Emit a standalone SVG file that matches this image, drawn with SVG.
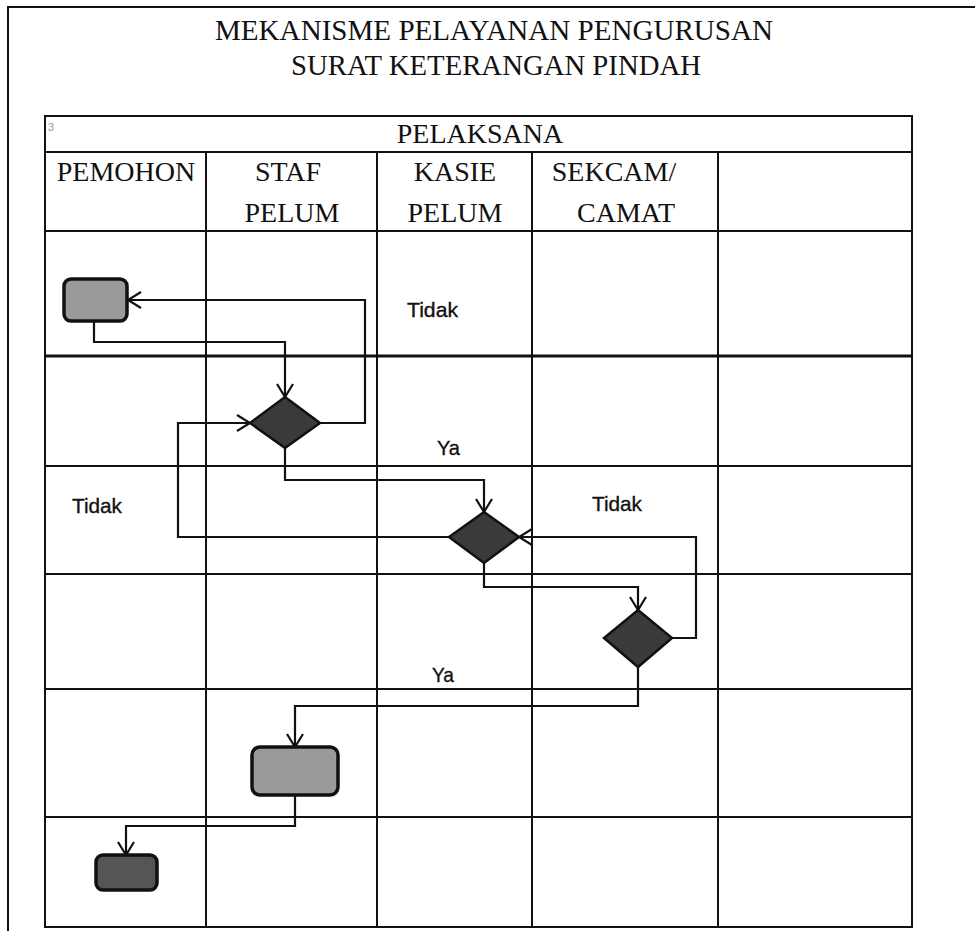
<svg xmlns="http://www.w3.org/2000/svg" width="975" height="931" viewBox="0 0 975 931">
<defs>
<style>
.grid{stroke:#111;stroke-width:2;fill:none}
.thick{stroke:#111;stroke-width:3;fill:none}
.title{font-family:"Liberation Serif","Times New Roman",serif;font-size:29px;fill:#111;text-anchor:middle}
.head{font-family:"Liberation Serif","Times New Roman",serif;font-size:28px;fill:#111;text-anchor:middle}
.lbl{font-family:"Liberation Sans",Arial,sans-serif;font-size:21px;fill:#111;stroke:#111;stroke-width:0.35}
.conn{stroke:#111;stroke-width:2.2;fill:none;marker-end:url(#arr)}
.act{fill:#9a9a9a;stroke:#111;stroke-width:3.5}
.dec{fill:#3a3a3a;stroke:#111;stroke-width:2.5}
</style>
<marker id="arr" markerUnits="userSpaceOnUse" markerWidth="16" markerHeight="20" refX="14" refY="10" orient="auto">
<path d="M1,2 L14,10 L1,18" fill="none" stroke="#111" stroke-width="2.2"/>
</marker>
</defs>
<rect x="0" y="0" width="975" height="931" fill="#fff"/>
<g id="frame">
<line class="grid" x1="7" y1="7" x2="975" y2="7"/>
<line class="grid" x1="8" y1="7" x2="8" y2="931"/>
</g>
<g id="titles">
<text class="title" x="494" y="40" textLength="558" lengthAdjust="spacingAndGlyphs">MEKANISME PELAYANAN PENGURUSAN</text>
<text class="title" x="496" y="75" textLength="410" lengthAdjust="spacingAndGlyphs">SURAT KETERANGAN PINDAH</text>
</g>
<g id="table">
<rect class="grid" x="45" y="116" width="867" height="811"/>
<line class="grid" x1="45" y1="152" x2="912" y2="152"/>
<line class="grid" x1="45" y1="231" x2="912" y2="231"/>
<line class="thick" x1="45" y1="356" x2="912" y2="356"/>
<line class="grid" x1="45" y1="466" x2="912" y2="466"/>
<line class="grid" x1="45" y1="574" x2="912" y2="574"/>
<line class="grid" x1="45" y1="689" x2="912" y2="689"/>
<line class="grid" x1="45" y1="817" x2="912" y2="817"/>
<line class="grid" x1="206" y1="152" x2="206" y2="927"/>
<line class="grid" x1="377" y1="152" x2="377" y2="927"/>
<line class="grid" x1="532" y1="152" x2="532" y2="927"/>
<line class="grid" x1="718" y1="152" x2="718" y2="927"/>
<text x="48" y="131" font-family="Liberation Sans,Arial,sans-serif" font-size="11" fill="#999">3</text>
<text class="head" x="480" y="143">PELAKSANA</text>
<text class="head" x="126" y="181">PEMOHON</text>
<text class="head" x="288" y="181">STAF</text>
<text class="head" x="292" y="222">PELUM</text>
<text class="head" x="455" y="181">KASIE</text>
<text class="head" x="455" y="222">PELUM</text>
<text class="head" x="614" y="181">SEKCAM/</text>
<text class="head" x="626" y="222">CAMAT</text>
</g>
<g id="connectors">
<path class="conn" d="M94,321 V342 H285 V397"/>
<path class="conn" d="M320,423 H365 V300 H128"/>
<path class="conn" d="M285,448 V480 H484 V512"/>
<path class="conn" d="M449,537 H178 V423 H250"/>
<path class="conn" d="M484,563 V587 H638 V610"/>
<path class="conn" d="M672,638 H696 V537 H519"/>
<path class="conn" d="M638,667 V706 H295 V747"/>
<path class="conn" d="M295,795 V826 H126 V855"/>
<text class="lbl" x="407" y="317" textLength="51" lengthAdjust="spacingAndGlyphs">Tidak</text>
<text class="lbl" x="437" y="455" textLength="23" lengthAdjust="spacingAndGlyphs">Ya</text>
<text class="lbl" x="72" y="513" textLength="50" lengthAdjust="spacingAndGlyphs">Tidak</text>
<text class="lbl" x="592" y="511" textLength="50" lengthAdjust="spacingAndGlyphs">Tidak</text>
<text class="lbl" x="432" y="682" textLength="22" lengthAdjust="spacingAndGlyphs">Ya</text>
</g>
<g id="start"><rect class="act" x="64" y="279" width="63" height="42" rx="7"/></g>
<g id="decision1"><polygon class="dec" points="285,397 320,423 285,448 250,423"/></g>
<g id="decision2"><polygon class="dec" points="484,512 519,537 484,563 449,537"/></g>
<g id="decision3"><polygon class="dec" points="638,610 672,638 638,667 604,638"/></g>
<g id="process"><rect class="act" x="252" y="747" width="86" height="48" rx="8"/></g>
<g id="end"><rect class="act" x="96" y="855" width="61" height="35" rx="7" style="fill:#555"/></g>
</svg>
